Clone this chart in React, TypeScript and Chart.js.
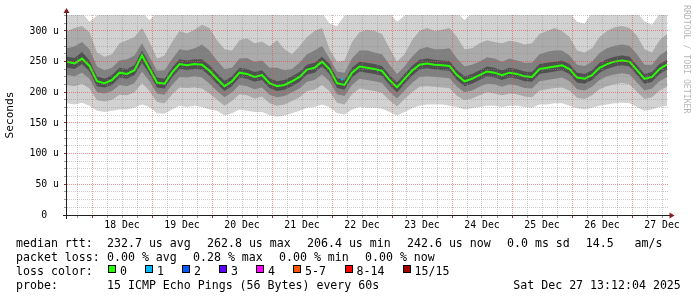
import React, { useEffect, useRef } from 'react';
import { Chart, registerables } from 'chart.js';

Chart.register(...registerables);

// ---- time axis (hours after 17 Dec 00:00) ----
const START_HOUR = 14;
const END_HOUR = 254.4;
const STEP_HOURS = 3;
const GRID_STEP_HOURS = 6;

// ---- data (microseconds) ----
const medianRtt = [
  250, 247, 255, 243, 218, 215, 220, 232, 230, 236,
  260, 238, 216, 214, 232, 246, 244, 246, 245, 235,
  222, 210, 218, 232, 230, 225, 228, 215, 210, 212,
  218, 225, 237, 240, 250, 238, 215, 212, 232, 242,
  240, 238, 235, 220, 208, 222, 235, 245, 247, 245,
  244, 243, 228, 218, 222, 228, 234, 232, 228, 232,
  230, 226, 225, 238, 240, 242, 244, 238, 224, 222,
  228, 240, 246, 250, 252, 250, 236, 222, 225, 238,
  245,
];
const smokeHigh1 = [
  330, 330, 330, 315, 325, 330, 330, 328, 330, 330,
  330, 318, 330, 330, 330, 330, 330, 330, 330, 330,
  330, 330, 328, 330, 330, 330, 330, 330, 330, 330,
  325, 330, 330, 330, 330, 312, 308, 325, 330, 330,
  330, 330, 330, 330, 315, 325, 330, 330, 330, 330,
  330, 330, 330, 318, 330, 330, 330, 330, 330, 330,
  330, 330, 330, 330, 330, 330, 330, 330, 315, 312,
  330, 330, 330, 330, 330, 330, 330, 316, 310, 328,
  330,
];
const smokeHigh2 = [
  300, 305, 308, 298, 265, 258, 262, 280, 285, 290,
  305, 282, 255, 260, 282, 300, 296, 302, 310, 305,
  285, 270, 268, 285, 288, 280, 283, 275, 285, 270,
  262, 275, 290, 300, 305, 270, 250, 252, 282, 298,
  302, 300, 295, 272, 250, 262, 285, 300, 305, 300,
  302, 305, 290, 270, 272, 280, 285, 282, 280, 284,
  282, 278, 280, 295, 300, 305, 300, 290, 268, 265,
  272, 290, 300, 306, 308, 305, 292, 270, 265, 285,
  295,
];
const smokeHigh3 = [
  272, 275, 282, 270, 242, 236, 240, 252, 254, 260,
  280, 258, 235, 236, 254, 270, 268, 272, 278, 268,
  252, 238, 240, 255, 256, 250, 252, 240, 240, 236,
  238, 248, 262, 268, 276, 255, 234, 232, 255, 268,
  268, 265, 262, 245, 230, 242, 258, 270, 274, 270,
  270, 272, 255, 242, 245, 250, 257, 255, 250, 255,
  252, 248, 248, 262, 266, 268, 268, 260, 245, 243,
  250, 264, 272, 276, 278, 276, 262, 245, 245, 260,
  268,
];
const smokeHigh4 = [
  258, 256, 266, 252, 226, 222, 228, 240, 238, 244,
  268, 246, 224, 222, 240, 254, 252, 254, 254, 244,
  231, 219, 226, 240, 238, 233, 236, 223, 218, 220,
  226, 233, 245, 248, 258, 246, 223, 220, 240, 250,
  248, 246, 243, 228, 216, 230, 243, 253, 255, 253,
  252, 251, 236, 226, 230, 236, 242, 240, 236, 240,
  238, 234, 233, 246, 248, 250, 252, 246, 232, 230,
  236, 248, 254, 258, 260, 258, 244, 230, 233, 246,
  253,
];
const smokeLow4 = [
  240, 238, 246, 234, 210, 208, 212, 224, 222, 228,
  248, 230, 208, 206, 224, 238, 236, 238, 237, 227,
  214, 202, 210, 224, 222, 217, 220, 207, 202, 204,
  210, 217, 229, 232, 242, 230, 207, 204, 224, 234,
  232, 230, 227, 212, 200, 214, 227, 237, 239, 237,
  236, 235, 220, 210, 214, 220, 226, 224, 220, 224,
  222, 218, 217, 230, 232, 234, 236, 230, 216, 214,
  220, 232, 238, 242, 244, 242, 228, 214, 217, 230,
  237,
];
const smokeLow3 = [
  228, 226, 232, 222, 200, 198, 202, 212, 210, 215,
  234, 218, 198, 196, 212, 225, 224, 226, 224, 214,
  202, 192, 200, 212, 210, 205, 208, 196, 192, 194,
  200, 206, 217, 220, 229, 218, 197, 194, 212, 222,
  220, 218, 215, 201, 190, 203, 215, 225, 226, 225,
  224, 223, 209, 200, 203, 209, 214, 213, 209, 213,
  211, 207, 206, 218, 220, 222, 224, 218, 205, 203,
  209, 220, 226, 229, 231, 229, 216, 203, 206, 218,
  225,
];
const smokeLow2 = [
  212, 210, 214, 206, 187, 185, 188, 196, 195, 200,
  215, 202, 184, 182, 196, 208, 207, 208, 206, 198,
  188, 178, 186, 197, 195, 190, 193, 182, 178, 180,
  186, 192, 202, 204, 212, 202, 183, 180, 197, 206,
  204, 202, 199, 187, 177, 189, 200, 209, 210, 209,
  208, 207, 194, 187, 190, 195, 200, 198, 195, 198,
  197, 193, 192, 203, 205, 207, 208, 203, 191, 189,
  195, 205, 210, 213, 215, 213, 201, 189, 192, 203,
  209,
];
const smokeLow1 = [
  182, 180, 183, 178, 170, 168, 170, 172, 172, 175,
  180, 176, 166, 165, 172, 178, 176, 178, 176, 172,
  170, 162, 166, 172, 170, 168, 168, 163, 160, 162,
  166, 170, 175, 176, 180, 176, 166, 164, 172, 176,
  175, 175, 173, 168, 162, 168, 174, 178, 180, 180,
  180, 178, 176, 172, 174, 176, 178, 178, 176, 178,
  178, 176, 175, 180, 180, 182, 182, 178, 174, 172,
  175, 178, 180, 182, 183, 182, 176, 170, 172, 176,
  178,
];
const lossOneHours = [124];
const lossOneValues = [221];

// ---- tick labels ----
const dayLabels = ['18 Dec', '19 Dec', '20 Dec', '21 Dec', '22 Dec', '23 Dec', '24 Dec', '25 Dec', '26 Dec', '27 Dec'];
const dayLabelHours = [36, 60, 84, 108, 132, 156, 180, 204, 228, 252];
const yLabelValues = [0, 50, 100, 150, 200, 250, 300];
const yLabelTexts = ['0  ', '50 u', '100 u', '150 u', '200 u', '250 u', '300 u'];
const Y_MAX = 326;
const Y_MINOR_STEP = 12.5;

// ---- legend texts ----
const medianStats = ['232.7 us avg', '262.8 us max', '206.4 us min', '242.6 us now', '0.0 ms sd', '14.5   am/s'];
const lossStats = ['0.00 % avg', '0.28 % max', '0.00 % min', '0.00 % now'];
const lossLabels = ['0', '1', '2', '3', '4', '5-7', '8-14', '15/15'];
const lossColors = ['#26ff00', '#00b8ff', '#0059ff', '#5e00ff', '#ff00ff', '#ff5500', '#ff0000', '#a10000'];
const probeText = '15 ICMP Echo Pings (56 Bytes) every 60s';
const dateText = 'Sat Dec 27 13:12:04 2025';

// ---- style ----
const MONO = "'DejaVu Sans Mono', monospace";
const MAJOR_GRID = 'rgba(222,79,79,0.6)';
const MINOR_GRID = 'rgba(143,143,143,0.45)';
const SMOKE_COLORS = ['#d2d2d2', '#ababab', '#808080', '#505050'];

const toPoints = (vals: number[]) => vals.map((v, i) => ({ x: START_HOUR + i * STEP_HOURS, y: v }));

const decorPlugin = {
  id: 'rrdDecor',
  afterDraw(chart: any) {
    const { ctx, chartArea: a } = chart;
    ctx.save();
    ctx.strokeStyle = '#1f1f1f';
    ctx.lineWidth = 1;
    ctx.beginPath();
    ctx.moveTo(a.left - 4, a.bottom + 0.5);
    ctx.lineTo(a.right + 2, a.bottom + 0.5);
    ctx.moveTo(a.left - 0.5, a.bottom + 4);
    ctx.lineTo(a.left - 0.5, a.top - 2);
    ctx.stroke();
    ctx.fillStyle = '#7f1f1f';
    ctx.beginPath();
    ctx.moveTo(a.left - 0.5, a.top - 7);
    ctx.lineTo(a.left - 3.5, a.top - 2);
    ctx.lineTo(a.left + 2.5, a.top - 2);
    ctx.closePath();
    ctx.fill();
    ctx.beginPath();
    ctx.moveTo(a.right + 6.5, a.bottom + 0.5);
    ctx.lineTo(a.right + 1.5, a.bottom - 2.5);
    ctx.lineTo(a.right + 1.5, a.bottom + 3.5);
    ctx.closePath();
    ctx.fill();
    // watermark
    ctx.translate(686.5, 5);
    ctx.rotate(Math.PI / 2);
    ctx.fillStyle = 'rgba(0,0,0,0.3)';
    ctx.font = `8.2px ${MONO}`;
    ctx.textBaseline = 'middle';
    ctx.textAlign = 'left';
    ctx.fillText('RRDTOOL / TOBI OETIKER', 0, 0);
    ctx.restore();
  },
};

function SmokeChart() {
  const ref = useRef<HTMLCanvasElement | null>(null);
  useEffect(() => {
    if (!ref.current) return;
    const bands = [
      [smokeHigh4, smokeLow4],
      [smokeHigh3, smokeLow3],
      [smokeHigh2, smokeLow2],
      [smokeHigh1, smokeLow1],
    ];
    const datasets: any[] = [
      {
        data: toPoints(medianRtt),
        borderColor: '#26ff00',
        borderWidth: 2,
        pointRadius: 0,
        fill: false,
        order: 0,
      },
      {
        data: lossOneHours.map((h, i) => ({ x: h, y: lossOneValues[i] })),
        showLine: false,
        pointStyle: 'rect',
        pointRadius: 1.5,
        pointBorderWidth: 0,
        pointBackgroundColor: '#00b8ff',
        borderColor: 'rgba(0,0,0,0)',
        order: -1,
      },
    ];
    bands.forEach(([hi, lo], k) => {
      datasets.push({
        data: toPoints(hi),
        borderColor: 'rgba(0,0,0,0)',
        borderWidth: 0,
        pointRadius: 0,
        backgroundColor: SMOKE_COLORS[3 - k],
        fill: '+1',
        order: k + 1,
      });
      datasets.push({
        data: toPoints(lo),
        borderColor: 'rgba(0,0,0,0)',
        borderWidth: 0,
        pointRadius: 0,
        fill: false,
        order: k + 1,
      });
    });

    const chart = new Chart(ref.current, {
      type: 'line',
      data: { datasets },
      plugins: [decorPlugin],
      options: {
        animation: false,
        responsive: false,
        events: [],
        layout: { padding: { left: 0, top: 15, right: 29, bottom: 0 } },
        plugins: { legend: { display: false }, tooltip: { enabled: false } },
        scales: {
          x: {
            type: 'linear',
            min: START_HOUR,
            max: END_HOUR,
            afterBuildTicks: (s: any) => {
              const t: any[] = [];
              for (let h = 18; h < END_HOUR; h += GRID_STEP_HOURS) t.push({ value: h });
              s.ticks = t;
            },
            afterFit: (s: any) => {
              s.height = 82;
            },
            ticks: {
              autoSkip: false,
              maxRotation: 0,
              padding: 2,
              color: '#000',
              font: { family: MONO, size: 9.8 },
              callback: (v: any) => {
                const k = dayLabelHours.indexOf(Number(v));
                return k >= 0 ? dayLabels[k] : '';
              },
            },
            grid: {
              z: 1,
              lineWidth: 1,
              tickLength: 3,
              color: (c: any) => (c.tick && c.tick.value % 24 === 0 ? MAJOR_GRID : MINOR_GRID),
              tickColor: (c: any) => (c.tick && c.tick.value % 24 === 0 ? '#7f3030' : '#9a9a9a'),
            },
            border: { display: false, dash: [1, 1] },
          },
          y: {
            type: 'linear',
            min: 0,
            max: Y_MAX,
            afterBuildTicks: (s: any) => {
              const t: any[] = [];
              for (let v = 0; v <= Y_MAX; v += Y_MINOR_STEP) t.push({ value: v });
              s.ticks = t;
            },
            afterFit: (s: any) => {
              s.width = 67;
            },
            ticks: {
              autoSkip: false,
              padding: 5,
              color: '#000',
              font: { family: MONO, size: 9.8 },
              callback: (v: any) => {
                const k = yLabelValues.indexOf(Number(v));
                return k >= 0 ? yLabelTexts[k] : '';
              },
            },
            grid: {
              z: 1,
              lineWidth: 1,
              tickLength: 3,
              color: (c: any) => (c.tick && c.tick.value % 50 === 0 ? MAJOR_GRID : MINOR_GRID),
              tickColor: (c: any) => (c.tick && c.tick.value % 50 === 0 ? '#7f3030' : '#9a9a9a'),
            },
            border: { display: false, dash: [1, 1] },
            title: {
              display: true,
              text: 'Seconds',
              color: '#000',
              font: { family: MONO, size: 11.1 },
              padding: { top: 3.5, bottom: 0 },
            },
          },
        },
      } as any,
    });
    return () => chart.destroy();
  }, []);
  return <canvas ref={ref} width={697} height={297} style={{ position: 'absolute', left: 0, top: 0 }} />;
}

const rowTops = [235.5, 249.6, 263.7, 277.8];
const medianX = [107, 207, 307, 407, 507, 585.7];
const lossX = [107, 193, 279, 365];
const boxX = [108, 145, 182, 219, 256, 293, 344.5, 402.5];

const txt = (left: number, top: number, s: string, key: string) => (
  <div
    key={key}
    style={{
      position: 'absolute',
      left,
      top,
      whiteSpace: 'pre',
      fontFamily: MONO,
      fontSize: 11.6,
      lineHeight: '14px',
      color: '#000',
    }}
  >
    {s}
  </div>
);

export default function App() {
  return (
    <div
      style={{
        position: 'fixed',
        left: 0,
        top: 0,
        width: 697,
        height: 297,
        background: '#fff',
        overflow: 'hidden',
      }}
    >
      <SmokeChart />
      {txt(16, rowTops[0], 'median rtt:', 'mr')}
      {medianStats.map((s, i) => txt(medianX[i], rowTops[0], s, 'm' + i))}
      {txt(16, rowTops[1], 'packet loss:', 'pl')}
      {lossStats.map((s, i) => txt(lossX[i], rowTops[1], s, 'l' + i))}
      {txt(16, rowTops[2], 'loss color:', 'lc')}
      {lossLabels.map((s, i) => (
        <React.Fragment key={'b' + i}>
          <div
            style={{
              position: 'absolute',
              left: boxX[i],
              top: 265,
              width: 8,
              height: 8,
              boxSizing: 'border-box',
              border: '1px solid #000',
              background: lossColors[i],
            }}
          />
          {txt(boxX[i] + 12, rowTops[2], s, 'bt' + i)}
        </React.Fragment>
      ))}
      {txt(16, rowTops[3], 'probe:', 'pr')}
      {txt(107, rowTops[3], probeText, 'pt')}
      {txt(513.3, rowTops[3], dateText, 'dt')}
    </div>
  );
}
